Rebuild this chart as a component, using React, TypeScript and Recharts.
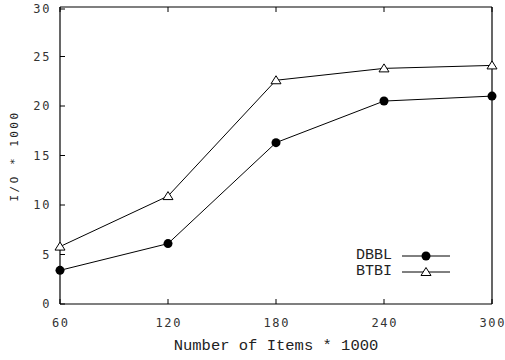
import React from 'react';
import { LineChart, Line, XAxis, YAxis, Legend } from 'recharts';

const itemsK = [60, 120, 180, 240, 300];
const dbbl = [3.4, 6.1, 16.3, 20.5, 21.0];
const btbi = [5.8, 10.9, 22.6, 23.8, 24.1];
const xTicks = [60, 120, 180, 240, 300];
const yTicks = [0, 5, 10, 15, 20, 25, 30];
const legendOrder = ['DBBL', 'BTBI'];

const data = itemsK.map((x, i) => ({ x, DBBL: dbbl[i], BTBI: btbi[i] }));

const TICK_FONT = '"DejaVu Sans Mono", monospace';
const LABEL_FONT = '"Liberation Mono", "Courier New", monospace';
const TL = 5;

const BottomTick = (p: any) => (
  <g>
    <line x1={p.x} y1={p.y} x2={p.x} y2={p.y - TL} stroke="#000" />
    <text x={p.x + 0.8} y={p.y + 19} dy="0.35em" textAnchor="middle" fontFamily={TICK_FONT} fontSize={12} letterSpacing={1.6} fill="#333">
      {p.payload.value}
    </text>
  </g>
);
const TopTick = (p: any) => (
  <line x1={p.x} y1={p.y} x2={p.x} y2={p.y + TL} stroke="#000" />
);
const LeftTick = (p: any) => (
  <g>
    <line x1={p.x} y1={p.y} x2={p.x + TL} y2={p.y} stroke="#000" />
    <text x={p.x - 9} y={p.y} dy="0.35em" textAnchor="end" fontFamily={TICK_FONT} fontSize={12} letterSpacing={1.6} fill="#333">
      {p.payload.value}
    </text>
  </g>
);
const RightTick = (p: any) => (
  <line x1={p.x} y1={p.y} x2={p.x - TL} y2={p.y} stroke="#000" />
);

const Circle = (p: any) => (
  <circle key={`c${p.index}`} cx={p.cx} cy={p.cy} r={4.5} fill="#000" stroke="none" />
);
const Tri = (p: any) => (
  <path
    key={`t${p.index}`}
    d={`M${p.cx},${p.cy - 4.5} L${p.cx - 5},${p.cy + 3.5} L${p.cx + 5},${p.cy + 3.5} Z`}
    fill="#fff"
    stroke="#000"
    strokeWidth={1}
  />
);

const LegendContent = (props: any) => {
  const items = [...(props.payload || [])].sort(
    (a: any, b: any) => legendOrder.indexOf(a.value) - legendOrder.indexOf(b.value)
  );
  return (
    <div>
      {items.map((it: any) => (
        <div key={it.value} style={{ display: 'flex', alignItems: 'center', height: 16 }}>
          <span style={{ width: 52, textAlign: 'right', fontFamily: LABEL_FONT, fontSize: 15, color: '#222', lineHeight: '16px' }}>
            {it.value}
          </span>
          <svg width={50} height={16} style={{ marginLeft: 10 }}>
            <line x1={0} y1={8} x2={48} y2={8} stroke="#000" />
            {it.value === 'DBBL' ? (
              <circle cx={24} cy={8} r={4.5} fill="#000" />
            ) : (
              <path d="M24,3.5 L19,11.5 L29,11.5 Z" fill="#fff" stroke="#000" />
            )}
          </svg>
        </div>
      ))}
    </div>
  );
};

export default function App() {
  return (
    <div style={{ position: 'absolute', left: 0, top: 0, background: '#fff' }}>
      <LineChart width={505} height={360} data={data} margin={{ top: 0, right: 0, bottom: 0, left: 0 }}>
        <XAxis
          dataKey="x"
          type="number"
          domain={[60, 300]}
          ticks={xTicks}
          height={56}
          tickSize={0}
          tickMargin={0}
          tick={<BottomTick />}
          axisLine={{ stroke: '#000', strokeWidth: 1.2 }}
          label={{
            content: (lp: any) => (
              <text x={lp.viewBox.x + lp.viewBox.width / 2} y={345} dy="0.35em" textAnchor="middle" fontFamily={LABEL_FONT} fontSize={15.5} fill="#222">
                Number of Items * 1000
              </text>
            ),
          }}
        />
        <XAxis
          xAxisId="top"
          orientation="top"
          dataKey="x"
          type="number"
          domain={[60, 300]}
          ticks={xTicks}
          height={7}
          tickSize={0}
          tickMargin={0}
          tick={<TopTick />}
          axisLine={{ stroke: '#000', strokeWidth: 1.2 }}
        />
        <YAxis
          type="number"
          domain={[0, 30]}
          ticks={yTicks}
          width={60}
          tickSize={0}
          tickMargin={0}
          tick={<LeftTick />}
          axisLine={{ stroke: '#000', strokeWidth: 1.2 }}
          label={{
            content: () => (
              <text x={14} y={156} dy="0.35em" textAnchor="middle" transform="rotate(-90 14 156)" fontFamily={TICK_FONT} fontSize={11} letterSpacing={2.5} fill="#222">
                I/O * 1000
              </text>
            ),
          }}
        />
        <YAxis
          yAxisId="right"
          orientation="right"
          type="number"
          domain={[0, 30]}
          ticks={yTicks}
          width={13}
          tickSize={0}
          tickMargin={0}
          tick={<RightTick />}
          axisLine={{ stroke: '#000', strokeWidth: 1.2 }}
        />
        <Legend
          layout="horizontal"
          verticalAlign="middle"
          align="center"
          content={<LegendContent />}
          wrapperStyle={{ position: 'absolute', left: 340, top: 248, width: 120, height: 32 }}
        />
        <Line dataKey="DBBL" name="DBBL" stroke="#000" strokeWidth={1} dot={Circle} isAnimationActive={false} />
        <Line dataKey="BTBI" name="BTBI" stroke="#000" strokeWidth={1} dot={Tri} isAnimationActive={false} />
      </LineChart>
    </div>
  );
}
